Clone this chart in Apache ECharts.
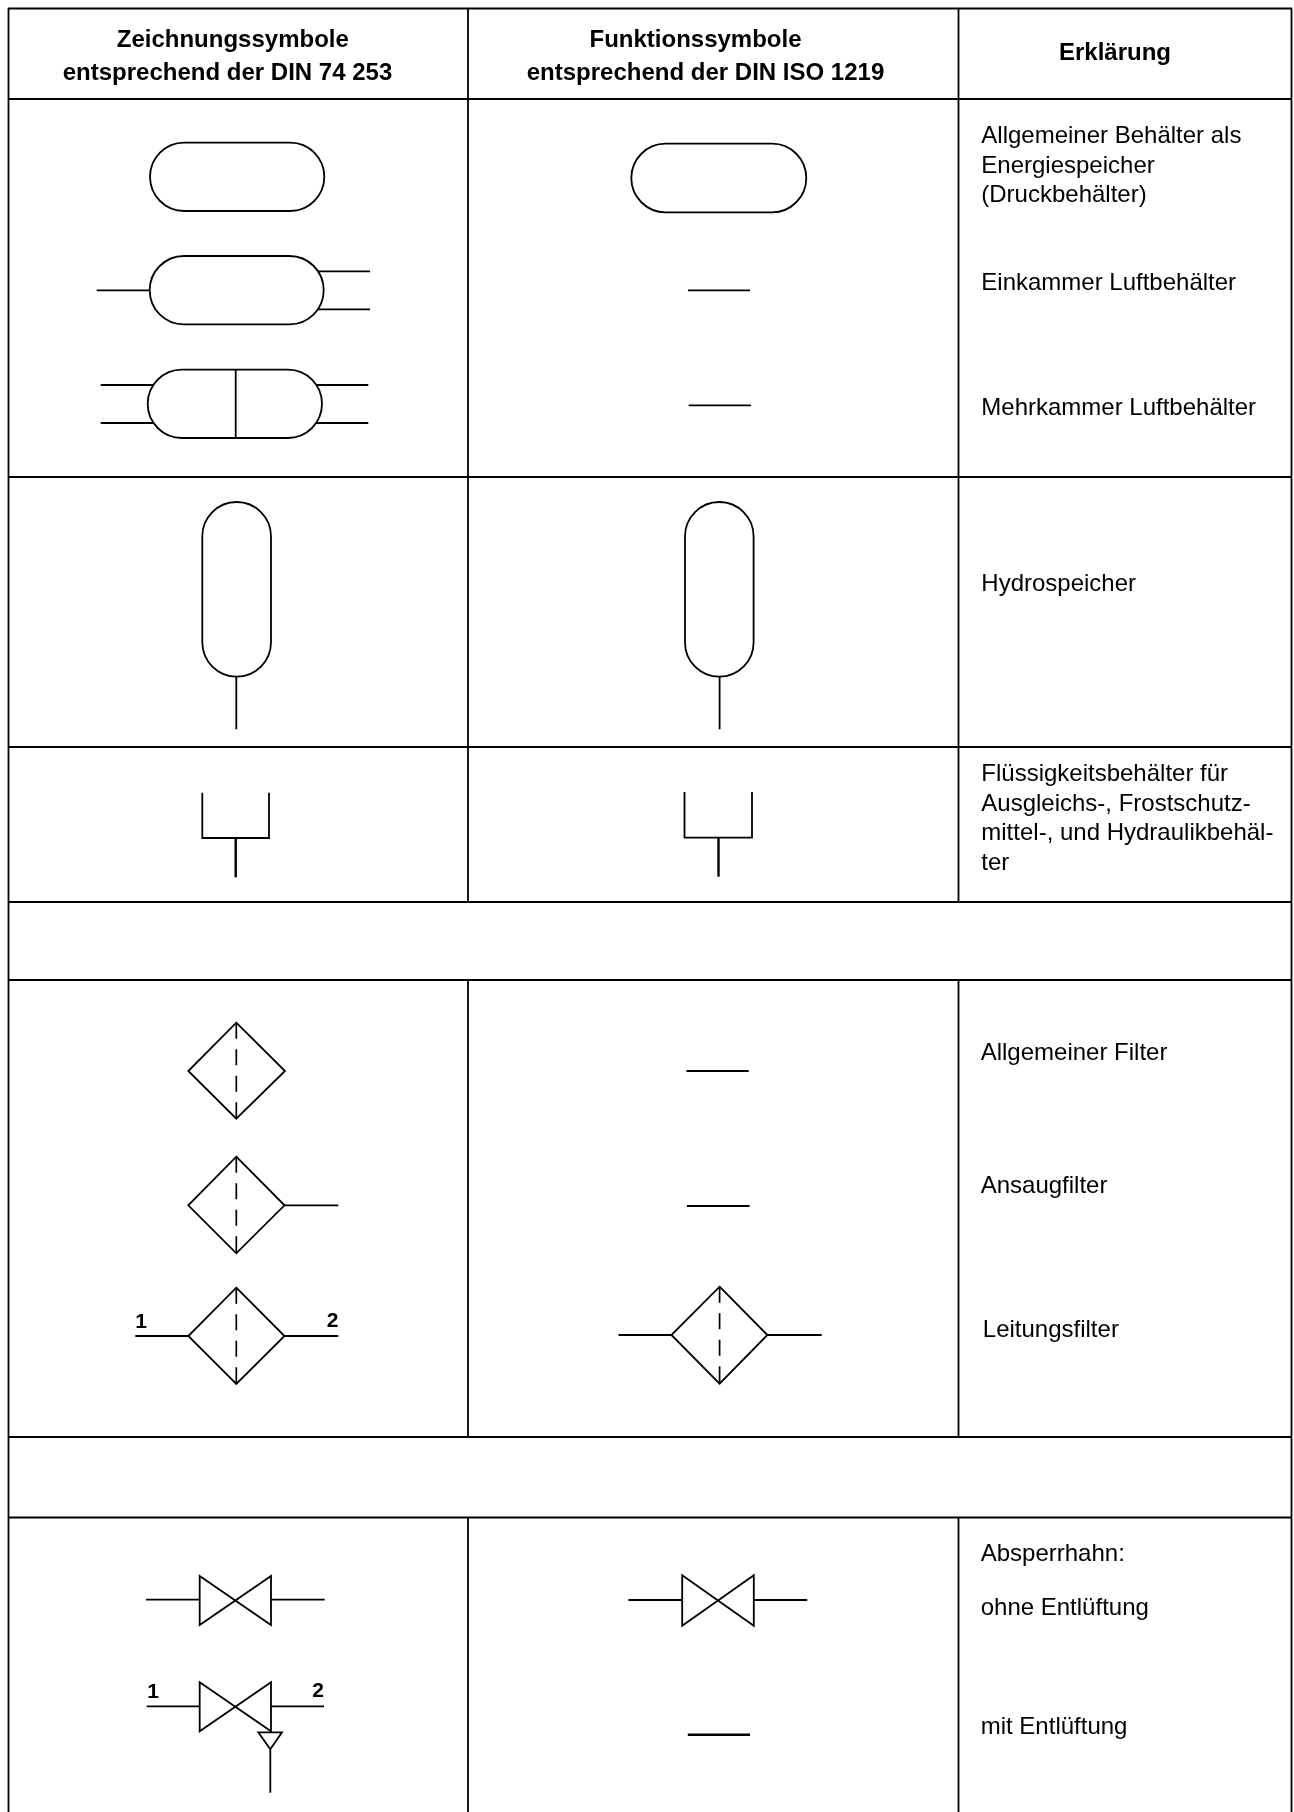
<!DOCTYPE html>
<html lang="de">
<head>
<meta charset="utf-8">
<title>Symbole</title>
<script src="https://cdn.jsdelivr.net/npm/echarts@6/dist/echarts.min.js"></script>
<style>
html, body { margin: 0; padding: 0; background: #fff; }
#chart { width: 1294px; height: 1812px; }
</style>
</head>
<body>
<div id="chart"></div>
<script>
// table rules: [x0, y0, x1, y1] in its own pixel units
const rowRules = [
  [8, 8.5, 1292, 8.5], [8, 99, 1292, 99], [8, 477, 1292, 477], [8, 747, 1292, 747],
  [8, 902, 1292, 902], [8, 980, 1292, 980], [8, 1437, 1292, 1437], [8, 1517.5, 1292, 1517.5]
]
const columnRules = [
  [8.5, 8, 8.5, 1812], [1291.5, 8, 1291.5, 1812],
  [468, 8, 468, 902], [468, 980, 468, 1437], [468, 1517, 468, 1812],
  [958.5, 8, 958.5, 902], [958.5, 980, 958.5, 1437], [958.5, 1517, 958.5, 1812]
]

// rounded tanks: [left, top, right, bottom]
const tanks = [
  [150, 142.7, 324.3, 211], [149.7, 256, 323.7, 324.3], [147.7, 369.7, 322, 438],
  [631.3, 143.7, 806.3, 212.3],
  [202.3, 502, 271, 676.7], [685, 502, 753.6, 676.7]
]

// connection lines and open shapes
const strokes = [
  // einkammer
  [[96.7, 290.3], [149.7, 290.3]], [[317, 271.3], [370, 271.3]], [[317, 309.3], [370, 309.3]],
  // mehrkammer
  [[235.7, 369.7], [235.7, 438]],
  [[100.7, 385], [153.3, 385]], [[100.7, 423], [153.3, 423]],
  [[316, 385], [368.3, 385]], [[316, 423], [368.3, 423]],
  // placeholders in the function column
  [[688, 290.3], [750, 290.3]], [[688.7, 405.3], [751, 405.3]],
  [[686.4, 1071], [748.7, 1071]], [[686.9, 1206], [749.6, 1206]],
  // hydrospeicher stems
  [[236.3, 676.7], [236.3, 729.3]], [[719.6, 676.7], [719.6, 729.3]],
  // fluid tanks
  [[202.3, 792.7], [202.3, 838], [269, 838], [269, 792.7]],
  [[684.5, 792], [684.5, 837.7], [752, 837.7], [752, 792]],
  // filter stubs
  [[284.5, 1205.3], [338.3, 1205.3]],
  [[135.3, 1336], [188.3, 1336]], [[284.5, 1336], [338.3, 1336]],
  [[618.5, 1335], [671.4, 1335]], [[767.4, 1335], [821.7, 1335]],
  // valve stubs
  [[146, 1599.7], [199.7, 1599.7]], [[271, 1599.7], [324.7, 1599.7]],
  [[146.7, 1706.3], [199.7, 1706.3]], [[271, 1706.3], [324, 1706.3]],
  [[628.4, 1600], [682.2, 1600]], [[753.8, 1600], [807.2, 1600]],
  [[270.3, 1749.3], [270.3, 1792.7]]
]
// the few lines that print heavier in the original
const heavyStrokes = [
  [[235.7, 838], [235.7, 877.3]], [[718.5, 837.7], [718.5, 876.7]],
  [[687.8, 1734.7], [750, 1734.7]]
]

// closed outlines: diamonds, bow ties, vent triangle
const outlines = [
  [[236.3, 1022.7], [285, 1071], [236.3, 1118.7], [188.3, 1071]],
  [[236.3, 1156.7], [284.5, 1205.3], [236.3, 1253.3], [188.3, 1205.3]],
  [[236.3, 1287.7], [284.5, 1336], [236.3, 1384], [188.3, 1336]],
  [[719.6, 1286.7], [767.4, 1335], [719.6, 1383.7], [671.4, 1335]],
  [[199.7, 1576], [271, 1625], [271, 1576], [199.7, 1625]],
  [[199.7, 1682.3], [271, 1731.3], [271, 1682.3], [199.7, 1731.3]],
  [[682.2, 1575.3], [753.8, 1625.7], [753.8, 1575.3], [682.2, 1625.7]],
  [[258.3, 1732.3], [282, 1732.3], [270.3, 1749.3]]
]

// dashed axes of the filters
const filterAxes = [
  [236.3, 1022.7, 236.3, 1118.7], [236.3, 1156.7, 236.3, 1253.3],
  [236.3, 1287.7, 236.3, 1384], [719.6, 1286.7, 719.6, 1383.7]
]

// header text: [text, centre x, baseline y]
const headerLabels = [
  ['Zeichnungssymbole', 232.8, 46.8],
  ['entsprechend der DIN 74 253', 227.5, 79.5],
  ['Funktionssymbole', 695.5, 46.8],
  ['entsprechend der DIN ISO 1219', 705.5, 79.5],
  ['Erklärung', 1115, 60]
]
// port numbers: [text, centre x, baseline y]
const portLabels = [
  ['1', 141, 1328], ['2', 332.7, 1327],
  ['1', 153, 1698], ['2', 318, 1697]
]
// explanation column: [text, left x, baseline y]
const noteLabels = [
  ['Allgemeiner Behälter als', 981.3, 142.7],
  ['Energiespeicher', 981.3, 172.3],
  ['(Druckbehälter)', 981.3, 202],
  ['Einkammer Luftbehälter', 981.3, 289.3],
  ['Mehrkammer Luftbehälter', 981.3, 414.3],
  ['Hydrospeicher', 981.3, 590.7],
  ['Flüssigkeitsbehälter für', 981.3, 781],
  ['Ausgleichs-, Frostschutz-', 981.3, 810.7],
  ['mittel-, und Hydraulikbehäl-', 981.3, 839.7],
  ['ter', 981.3, 869.7],
  ['Allgemeiner Filter', 980.7, 1060],
  ['Ansaugfilter', 980.7, 1192.7],
  ['Leitungsfilter', 982.8, 1336.7],
  ['Absperrhahn:', 980.7, 1560.3],
  ['ohne Entlüftung', 980.7, 1614.3],
  ['mit Entlüftung', 980.7, 1733.7]
]

const INK = '#000'
const FONT = 'Liberation Sans, Arial, sans-serif'

function lineSeries(rows, width, dash) {
  return {
    type: 'custom',
    silent: true,
    animation: false,
    clip: false,
    data: rows,
    encode: { x: [0, 2], y: [1, 3] },
    renderItem(params, api) {
      const a = api.coord([api.value(0), api.value(1)])
      const b = api.coord([api.value(2), api.value(3)])
      return {
        type: 'line',
        shape: { x1: a[0], y1: a[1], x2: b[0], y2: b[1] },
        style: { stroke: INK, lineWidth: width, lineDash: dash || null, fill: null }
      }
    }
  }
}

function tankSeries(rows, width) {
  return {
    type: 'custom',
    silent: true,
    animation: false,
    clip: false,
    data: rows,
    encode: { x: [0, 2], y: [1, 3] },
    renderItem(params, api) {
      const a = api.coord([api.value(0), api.value(1)])
      const b = api.coord([api.value(2), api.value(3)])
      const w = b[0] - a[0]
      const h = b[1] - a[1]
      return {
        type: 'rect',
        shape: { x: a[0], y: a[1], width: w, height: h, r: Math.min(w, h) / 2 },
        style: { stroke: INK, lineWidth: width, fill: null }
      }
    }
  }
}

function pathSeries(paths, closed, width) {
  return {
    type: 'custom',
    silent: true,
    animation: false,
    clip: false,
    data: paths.map((p, i) => [p[0][0], p[0][1], i]),
    renderItem(params, api) {
      const pts = paths[params.dataIndex].map(p => api.coord(p))
      return {
        type: closed ? 'polygon' : 'polyline',
        shape: { points: pts },
        style: { stroke: INK, lineWidth: width, fill: null, lineJoin: 'miter' }
      }
    }
  }
}

// lift moves the box middle up from the baseline, measured on a test render
function textSeries(rows, font, align, lift) {
  return {
    type: 'custom',
    silent: true,
    animation: false,
    clip: false,
    data: rows.map(r => [r[1], r[2], r[0]]),
    dimensions: ['x', 'y', 'text'],
    encode: { x: 0, y: 1 },
    renderItem(params, api) {
      const p = api.coord([api.value(0), api.value(1)])
      return {
        type: 'text',
        style: {
          x: p[0],
          y: p[1] - lift,
          text: rows[params.dataIndex][0],
          font: font,
          fill: INK,
          textAlign: align,
          textVerticalAlign: 'middle'
        }
      }
    }
  }
}

const chart = echarts.init(document.getElementById('chart'), null, { renderer: 'canvas' })
chart.setOption({
  backgroundColor: '#fff',
  animation: false,
  tooltip: { show: false },
  grid: { left: 0, right: 0, top: 0, bottom: 0 },
  xAxis: { type: 'value', min: 0, max: 1294, show: false },
  yAxis: { type: 'value', min: 0, max: 1812, inverse: true, show: false },
  series: [
    lineSeries(rowRules, 2.2),
    lineSeries(columnRules, 1.8),
    tankSeries(tanks, 1.8),
    pathSeries(strokes, false, 1.8),
    pathSeries(heavyStrokes, false, 2.4),
    pathSeries(outlines, true, 1.8),
    lineSeries(filterAxes, 1.7, [16, 10.5]),
    textSeries(headerLabels, 'bold 24px ' + FONT, 'center', 6.3),
    textSeries(portLabels, 'bold 21px ' + FONT, 'center', 5.5),
    textSeries(noteLabels, '24px ' + FONT, 'left', 6.3)
  ]
})
</script>
</body>
</html>
